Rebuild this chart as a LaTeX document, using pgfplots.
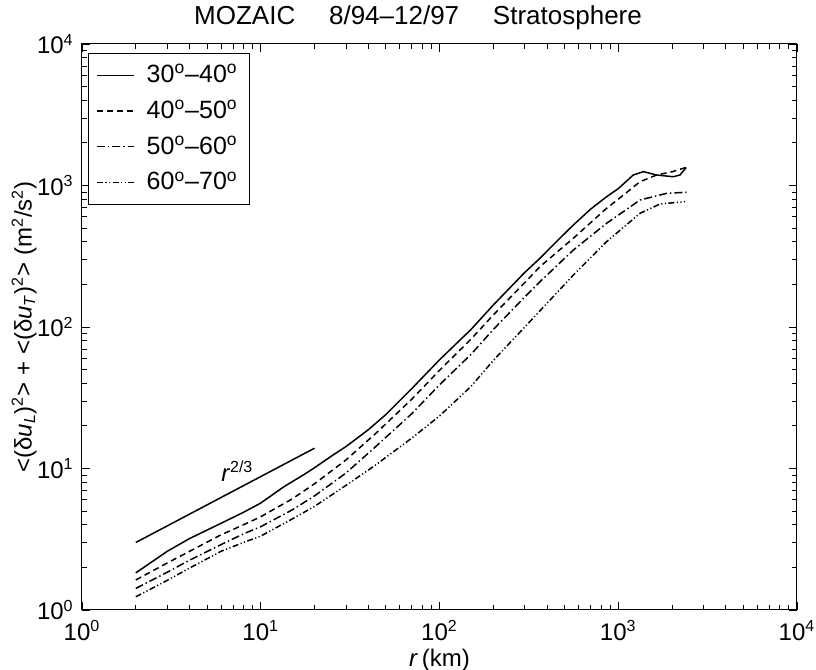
\documentclass[border=0pt]{standalone}
\usepackage{fontspec}
\setmainfont{Liberation Sans}
\usepackage{pgfplots}
\pgfplotsset{compat=1.18}

\begin{document}
\fontsize{12}{14}\selectfont
\begin{tikzpicture}
% picture box: 1 px of the reference = 0.5pt
\useasboundingbox (-41pt,-30pt) rectangle (367pt,305pt);
\begin{axis}[
    scale only axis,
    width=357.5pt, height=283pt,
    xmode=log, ymode=log,
    xmin=1, xmax=10000, ymin=1, ymax=10000,
    xtick={1,10,100,1000,10000},
    xticklabels={10\textsuperscript{0},10\textsuperscript{1},10\textsuperscript{2},10\textsuperscript{3},10\textsuperscript{4}},
    ytick={1,10,100,1000,10000},
    yticklabels={10\textsuperscript{0},10\textsuperscript{1},10\textsuperscript{2},10\textsuperscript{3},10\textsuperscript{4}},
    xticklabel style={yshift=-1pt},
    major tick length=4pt, minor tick length=2.5pt,
    axis line style={line width=0.5pt},
    every tick/.style={black, line width=0.4pt},
    every axis title shift=0pt,
    title={MOZAIC\hspace{1.3em}8/94--12/97\hspace{1.3em}Stratosphere},
    title style={at={(axis description cs:0.47,1.046)}, anchor=center,
        font=\fontsize{13}{15}\selectfont},
    xlabel={\textit{r}\,(km)},
    xlabel style={at={(axis description cs:0.5,-0.089)}, anchor=center},
    ylabel={<(δ\textit{u}\textsubscript{\textit{L}})\textsuperscript{2}> + <(δ\textit{u}\textsubscript{\textit{T}})\textsuperscript{2}> (m\textsuperscript{2}/s\textsuperscript{2})},
    ylabel style={at={(axis description cs:-0.081,0.5)}, anchor=center},
    legend style={at={(0,1)}, anchor=north west, xshift=3pt, yshift=-4.5pt,
        draw=black, line width=0.5pt, row sep=3pt, column sep=4pt,
        inner xsep=4pt, inner ysep=3.5pt,
        font=\fontsize{12.5}{14}\selectfont},
    legend cell align=left,
    legend image code/.code={\draw[#1, line width=0.6pt] (0pt,0pt) -- (18.5pt,0pt);},
]

\addplot[black, line width=0.75pt] coordinates {
    (2,1.83) (3,2.6) (4,3.2) (6,4.1) (8,4.9) (10,5.7) (13.4,7.4) (17.3,9.0)
    (19.7,10.0) (25,12.3) (30,14.3) (40,18.8) (50,24) (70,36.7) (100,58.6)
    (150,96) (200,143) (300,243) (365,306) (450,400) (561,526) (700,680)
    (861,833) (1000,950) (1213,1186) (1380,1253) (1500,1220) (1640,1186)
    (2030,1153) (2215,1186) (2400,1340)
};
\addlegendentry{30\textsuperscript{o}--40\textsuperscript{o}}

\addplot[black, line width=0.75pt, dash pattern=on 3pt off 2pt] coordinates {
    (2,1.63) (3,2.15) (4,2.6) (6,3.4) (8,4.0) (10,4.56) (15,6.1) (20,7.8)
    (30,11.5) (44,17.7) (70,30.9) (100,49.4) (150,82) (200,121.6) (300,206)
    (365,267) (561,424) (861,690) (1000,800) (1324,1064) (1640,1186)
    (2000,1250) (2400,1343)
};
\addlegendentry{40\textsuperscript{o}--50\textsuperscript{o}}

\addplot[black, line width=0.75pt, dash pattern=on 4pt off 1.5pt on 0.7pt off 1.5pt] coordinates {
    (2,1.42) (3,1.85) (4,2.25) (6,2.9) (8,3.45) (10,3.88) (15,5.1) (20,6.4)
    (30,9.3) (44,14.3) (70,24.4) (100,39) (150,64) (200,96) (300,163)
    (365,209) (561,350) (861,541) (1324,790) (1866,880) (2415,896)
};
\addlegendentry{50\textsuperscript{o}--60\textsuperscript{o}}

\addplot[black, line width=0.75pt, dash pattern=on 3pt off 1.2pt on 0.6pt off 1.2pt on 0.6pt off 1.2pt] coordinates {
    (2,1.24) (3,1.62) (4,1.98) (6,2.6) (8,3.0) (10,3.33) (15,4.4) (20,5.4)
    (30,7.6) (44,10.6) (70,16.4) (100,23.5) (150,38) (200,58) (300,100)
    (433,164) (561,233) (861,401) (1324,636) (1713,740) (2362,769)
};
\addlegendentry{60\textsuperscript{o}--70\textsuperscript{o}}

% r^{2/3} reference slope
\addplot[black, line width=0.75pt, forget plot] coordinates {(2,3) (20,13.92)};
\node at (axis cs:7.4,9.6) {\textit{r}\textsuperscript{2/3}};

\end{axis}
\end{tikzpicture}
\end{document}
